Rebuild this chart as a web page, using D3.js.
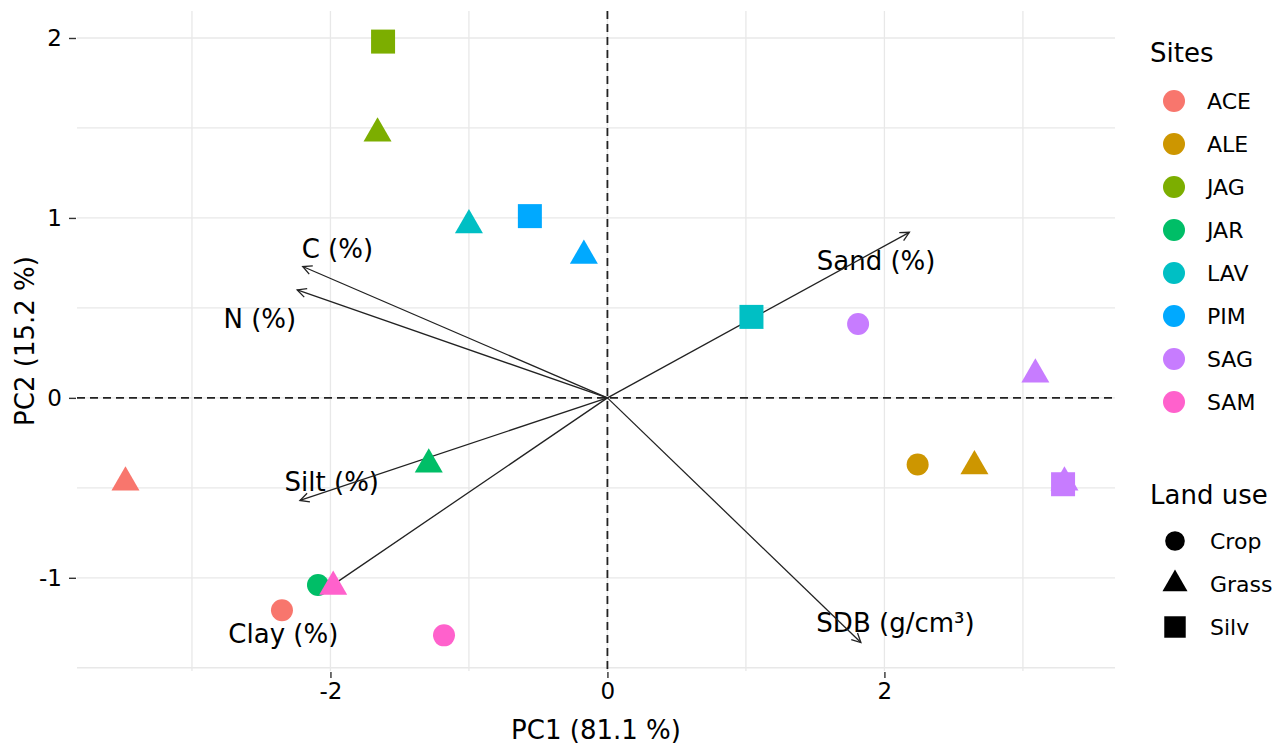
<!DOCTYPE html>
<html>
<head>
<meta charset="utf-8">
<script src="https://cdn.jsdelivr.net/npm/d3@7"></script>
<style>
  body { margin: 0; background: #fff; }
  text { font-family: "DejaVu Sans", sans-serif; fill: #000; }
</style>
</head>
<body>
<script>
var width = 1287
var height = 745

// sites and land use
var sites = ["ACE", "ALE", "JAG", "JAR", "LAV", "PIM", "SAG", "SAM"]
var siteColors = ["#F8766D", "#CD9600", "#7CAE00", "#00BE67", "#00BFC4", "#00A9FF", "#C77CFF", "#FF61CC"]
var landUses = ["Crop", "Grass", "Silv"]

// sample scores
var pointSite = ["ACE", "ACE", "ALE", "ALE", "JAG", "JAG", "JAR", "JAR", "LAV", "LAV", "PIM", "PIM", "SAG", "SAG", "SAG", "SAG", "SAM", "SAM"]
var pointUse  = ["Grass", "Crop", "Crop", "Grass", "Silv", "Grass", "Grass", "Crop", "Grass", "Silv", "Silv", "Grass", "Crop", "Grass", "Silv", "Grass", "Grass", "Crop"]
var pc1 = [-3.48, -2.35, 2.24, 2.65, -1.62, -1.66, -1.29, -2.09, -1.00, 1.04, -0.56, -0.17, 1.81, 3.09, 3.29, 3.30, -1.98, -1.18]
var pc2 = [-0.47, -1.18, -0.37, -0.38, 1.98, 1.47, -0.37, -1.04, 0.96, 0.45, 1.01, 0.79, 0.41, 0.13, -0.48, -0.47, -1.05, -1.32]

// variable loadings
var varNames = ["C (%)", "N (%)", "Sand (%)", "Silt (%)", "Clay (%)", "SDB (g/cm\u00b3)"]
var varPC1 = [-2.20, -2.24, 2.18, -2.22, -2.04, 1.83]
var varPC2 = [0.73, 0.60, 0.92, -0.57, -1.07, -1.36]
var labelPC1 = [-1.95, -2.51, 1.94, -1.99, -2.34, 2.08]
var labelPC2 = [0.83, 0.44, 0.76, -0.47, -1.31, -1.25]

var xTicks = [-2, 0, 2]
var yTicks = [-1, 0, 1, 2]
var xMinor = [-3, -1, 1, 3]
var yMinor = [-1.5, -0.5, 0.5, 1.5]

var panel = { left: 77, right: 1115, top: 11, bottom: 671 }

var x = d3.scaleLinear().domain([-3.83, 3.665]).range([panel.left, panel.right])
var y = d3.scaleLinear().domain([-1.518, 2.15]).range([panel.bottom, panel.top])
var color = d3.scaleOrdinal().domain(sites).range(siteColors)

var shapeSize = { Crop: Math.PI * 11 * 11, Grass: Math.sqrt(3) / 4 * 28 * 28, Silv: 24 * 24 }
var shapeType = { Crop: d3.symbolCircle, Grass: d3.symbolTriangle, Silv: d3.symbolSquare }
function symbolPath(use, scale) {
  return d3.symbol().type(shapeType[use]).size(shapeSize[use] * (scale || 1))()
}

var svg = d3.select("body").append("svg")
  .attr("width", width)
  .attr("height", height)

svg.append("defs").append("marker")
  .attr("id", "head")
  .attr("markerUnits", "userSpaceOnUse")
  .attr("viewBox", "-10 -6 12 12")
  .attr("refX", 0).attr("refY", 0)
  .attr("markerWidth", 12).attr("markerHeight", 12)
  .attr("orient", "auto")
  .append("path")
  .attr("d", "M-9,-4.5L0,0L-9,4.5")
  .attr("fill", "none")
  .attr("stroke", "#222")
  .attr("stroke-width", 1.3)

// grid
var grid = svg.append("g")
grid.selectAll(".vminor").data(xMinor.concat(xTicks)).enter().append("line")
  .attr("x1", function (d) { return x(d) }).attr("x2", function (d) { return x(d) })
  .attr("y1", panel.top).attr("y2", panel.bottom)
  .attr("stroke", "#e8e8e8").attr("stroke-width", 1.3)
grid.selectAll(".hminor").data(yMinor.concat(yTicks)).enter().append("line")
  .attr("x1", panel.left).attr("x2", panel.right)
  .attr("y1", function (d) { return y(d) }).attr("y2", function (d) { return y(d) })
  .attr("stroke", "#e8e8e8").attr("stroke-width", 1.3)

// axes
var xAxis = svg.append("g")
  .attr("transform", "translate(0," + (panel.bottom + 1) + ")")
  .call(d3.axisBottom(x).tickValues(xTicks).tickSize(6).tickPadding(5).tickFormat(d3.format("d")))
var yAxis = svg.append("g")
  .attr("transform", "translate(" + (panel.left - 1) + ",0)")
  .call(d3.axisLeft(y).tickValues(yTicks).tickSize(7).tickPadding(7).tickFormat(function (d) { return d < 0 ? "-" + Math.abs(d) : d }))
svg.selectAll(".domain").remove()
svg.selectAll(".tick line").attr("stroke", "#333").attr("stroke-width", 1.4)
svg.selectAll(".tick text").style("font-size", "23px").style("font-family", "DejaVu Sans").attr("fill", "#000")
xAxis.selectAll(".tick text").text(function (d) { return d < 0 ? "-" + Math.abs(d) : d })

// zero lines
svg.append("line")
  .attr("x1", x(0)).attr("x2", x(0)).attr("y1", panel.top).attr("y2", panel.bottom)
  .attr("stroke", "#222").attr("stroke-width", 1.8).attr("stroke-dasharray", "8,5")
svg.append("line")
  .attr("x1", panel.left).attr("x2", panel.right).attr("y1", y(0)).attr("y2", y(0))
  .attr("stroke", "#222").attr("stroke-width", 1.8).attr("stroke-dasharray", "8,5")

// variable labels
svg.selectAll(".vlabel").data(varNames).enter().append("text")
  .attr("x", function (d, i) { return x(labelPC1[i]) })
  .attr("y", function (d, i) { return y(labelPC2[i]) + 9 })
  .attr("text-anchor", "middle")
  .style("font-size", "26px")
  .text(function (d) { return d })

// loading arrows
svg.selectAll(".arrow").data(varNames).enter().append("line")
  .attr("x1", x(0)).attr("y1", y(0))
  .attr("x2", function (d, i) { return x(varPC1[i]) })
  .attr("y2", function (d, i) { return y(varPC2[i]) })
  .attr("stroke", "#222").attr("stroke-width", 1.3)
  .attr("marker-end", "url(#head)")

// points
svg.selectAll(".pt").data(pc1).enter().append("path")
  .attr("d", function (d, i) { return symbolPath(pointUse[i]) })
  .attr("transform", function (d, i) { return "translate(" + x(pc1[i]) + "," + y(pc2[i]) + ")" })
  .attr("fill", function (d, i) { return color(pointSite[i]) })

// axis titles
svg.append("text")
  .attr("x", (panel.left + panel.right) / 2).attr("y", 739)
  .attr("text-anchor", "middle").style("font-size", "26px")
  .text("PC1 (81.1 %)")
svg.append("text")
  .attr("transform", "translate(34," + ((panel.top + panel.bottom) / 2) + ") rotate(-90)")
  .attr("text-anchor", "middle").style("font-size", "26px")
  .text("PC2 (15.2 %)")

// legends
var leg = svg.append("g")
leg.append("text").attr("x", 1150).attr("y", 62).style("font-size", "26px").text("Sites")
var siteKey = leg.selectAll(".site").data(sites).enter().append("g")
  .attr("transform", function (d, i) { return "translate(1174," + (101 + i * 43) + ")" })
siteKey.append("path").attr("d", symbolPath("Crop")).attr("fill", function (d) { return color(d) })
siteKey.append("text").attr("x", 33).attr("y", 8).style("font-size", "22px").text(function (d) { return d })

leg.append("text").attr("x", 1150).attr("y", 504).style("font-size", "26px").text("Land use")
var useKey = leg.selectAll(".use").data(landUses).enter().append("g")
  .attr("transform", function (d, i) { return "translate(1175," + (541 + i * 43) + ")" })
useKey.append("path").attr("d", function (d) { return symbolPath(d, 0.8) }).attr("fill", "#000")
useKey.append("text").attr("x", 35).attr("y", 8).style("font-size", "22px").text(function (d) { return d })
</script>
</body>
</html>
